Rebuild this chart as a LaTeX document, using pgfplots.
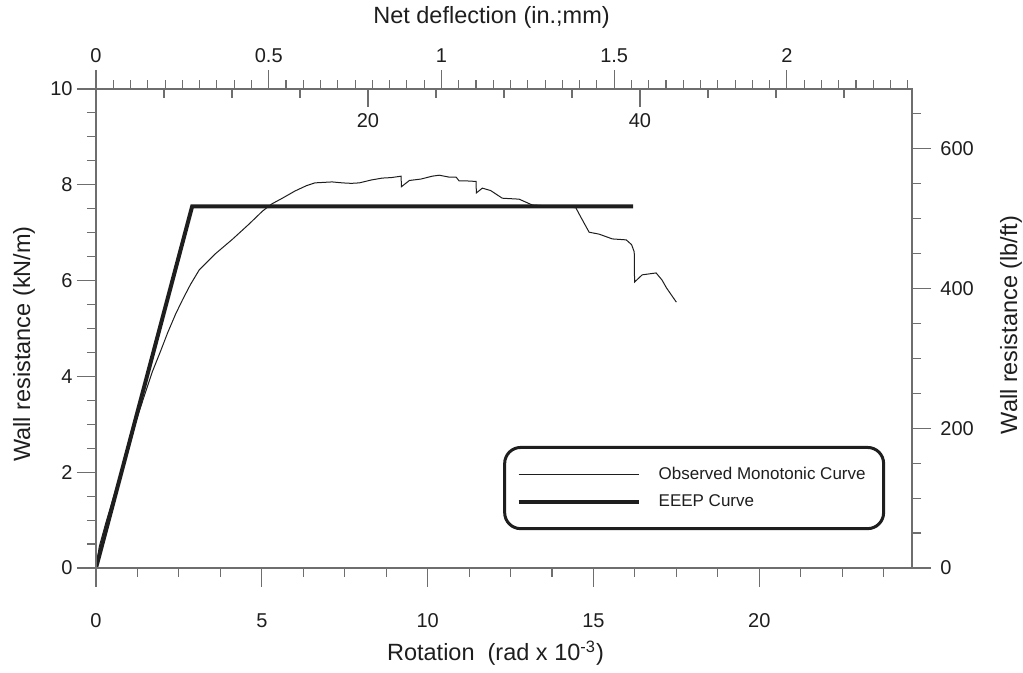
\documentclass[border=0pt]{standalone}
\usepackage{fontspec}
\setmainfont{Liberation Sans}
\usepackage{pgfplots}
\pgfplotsset{compat=1.18}
\definecolor{axgray}{HTML}{6E6E6E}
\definecolor{ink}{HTML}{1E1E1E}
\pgfplotsset{
  common/.style={
    scale only axis, width=408pt, height=239.5pt,
    at={(0pt,0pt)}, anchor=south west,
    /pgf/number format/assume math mode=true,
    axis line style={axgray, line width=0.6pt},
    every tick/.style={axgray, line width=0.55pt},
    tick align=outside,
    major tick length=9.5pt, minor tick length=4.5pt,
    ticklabel style={font=\fontsize{10}{12}\selectfont, text=ink},
  }
}
\begin{document}
\begin{tikzpicture}
\path[use as bounding box] (-48pt,-52.5pt) rectangle (463.5pt,284pt);
\begin{axis}[common,
  xmin=0, xmax=24.606, ymin=0, ymax=10,
  xtick={0,5,10,15,20},
  minor xtick={1.25,2.5,3.75,6.25,7.5,8.75,11.25,12.5,13.75,16.25,17.5,18.75,21.25,22.5,23.75},
  ytick={0,2,4,6,8,10},
  minor ytick={0.5,1,1.5,2.5,3,3.5,4.5,5,5.5,6.5,7,7.5,8.5,9,9.5},
  xtick pos=bottom, ytick pos=left,
  xticklabel shift=9.7pt, yticklabel shift=-1.3pt,
  legend cell align=left,
  legend image code/.code={\draw[#1, rounded corners=0pt] (0pt,0pt) -- (60pt,0pt);},
  legend style={at={(axis description cs:0.499,0.079)}, anchor=south west,
    draw=ink, line width=1.5pt, rounded corners=8pt,
    font=\fontsize{8.5}{10}\selectfont, text=ink,
    inner xsep=6pt, inner ysep=6.8pt, column sep=6pt, row sep=0pt,
    nodes={inner xsep=3pt, inner ysep=2.75pt, text height=6.3pt, text depth=1.7pt}},
]
\addplot[ink, line width=0.5pt] coordinates {
(0,0) (0.1,0.45) (0.3,0.95) (0.6,1.65) (0.9,2.35) (1.2,3.05) (1.46,3.6)
(1.7,4.1) (1.96,4.55) (2.16,4.91) (2.4,5.3) (2.61,5.6) (2.85,5.92) (3.11,6.22)
(3.6,6.56) (4.11,6.86) (4.6,7.17) (5.02,7.45) (5.3,7.6) (5.62,7.72) (6.0,7.87)
(6.34,7.98) (6.6,8.04) (7.12,8.06) (7.43,8.04) (7.7,8.03) (7.94,8.04) (8.3,8.1)
(8.63,8.14) (8.9,8.15) (9.2,8.18) (9.21,7.96) (9.45,8.09) (9.8,8.12) (10.14,8.18)
(10.35,8.2) (10.65,8.16) (10.86,8.16) (10.95,8.08) (11.2,8.08) (11.46,8.07)
(11.47,7.83) (11.65,7.93) (11.9,7.88) (12.25,7.72) (12.76,7.7) (13.15,7.58)
(13.6,7.56) (14.02,7.56) (14.47,7.52) (14.6,7.35) (14.87,7.01) (15.17,6.97)
(15.57,6.87) (15.99,6.85) (16.15,6.75) (16.23,6.6) (16.24,5.97) (16.47,6.12)
(16.89,6.16) (17.07,6.01) (17.2,5.85) (17.35,5.7) (17.5,5.55)
};
\addlegendentry{Observed Monotonic Curve}
\addplot[ink, line width=2pt] coordinates {(0,0) (2.9,7.55) (16.2,7.55)};
\addlegendentry{EEEP Curve}
\end{axis}
\begin{axis}[common, hide x axis,
  xmin=0, xmax=1, ymin=0, ymax=685.218,
  ytick={0,200,400,600},
  minor ytick={50,100,150,250,300,350,450,500,550,650},
  ytick pos=right, yticklabel pos=right, yticklabel shift=1.2pt]
\end{axis}
\begin{axis}[common, hide y axis,
  xmin=0, xmax=2.3622, ymin=0, ymax=1,
  xtick={0,0.5,1,1.5,2},
  minor xtick={0.05,0.1,0.15,0.2,0.25,0.3,0.35,0.4,0.45,0.55,0.6,0.65,0.7,0.75,0.8,0.85,0.9,0.95,1.05,1.1,1.15,1.2,1.25,1.3,1.35,1.4,1.45,1.55,1.6,1.65,1.7,1.75,1.8,1.85,1.9,1.95,2.05,2.1,2.15,2.2,2.25,2.3,2.35},
  xtick pos=top, xticklabel pos=top]
\end{axis}
\begin{axis}[common, hide y axis,
  xmin=0, xmax=60, ymin=0, ymax=1,
  xtick={20,40}, minor xtick={5,10,15,25,30,35,45,50,55},
  xtick pos=top, xticklabel pos=top, tick align=inside,
  major tick length=9pt,
  xticklabel style={anchor=north}, xticklabel shift=-8.7pt]
\end{axis}
\node[anchor=base, font=\fontsize{11.75}{14}\selectfont, text=ink] at (197.75pt,272pt) {Net deflection (in.;mm)};
\node[anchor=base, font=\fontsize{11.75}{14}\selectfont, text=ink] at (199.75pt,-46.5pt) {Rotation\ \ (rad x 10\textsuperscript{-3})};
\node[rotate=90, anchor=base, font=\fontsize{11.75}{14}\selectfont, text=ink] at (-33pt,112pt) {Wall resistance (kN/m)};
\node[rotate=90, anchor=base, font=\fontsize{11.75}{14}\selectfont, text=ink] at (460.5pt,121.5pt) {Wall resistance (lb/ft)};
\end{tikzpicture}
\end{document}
